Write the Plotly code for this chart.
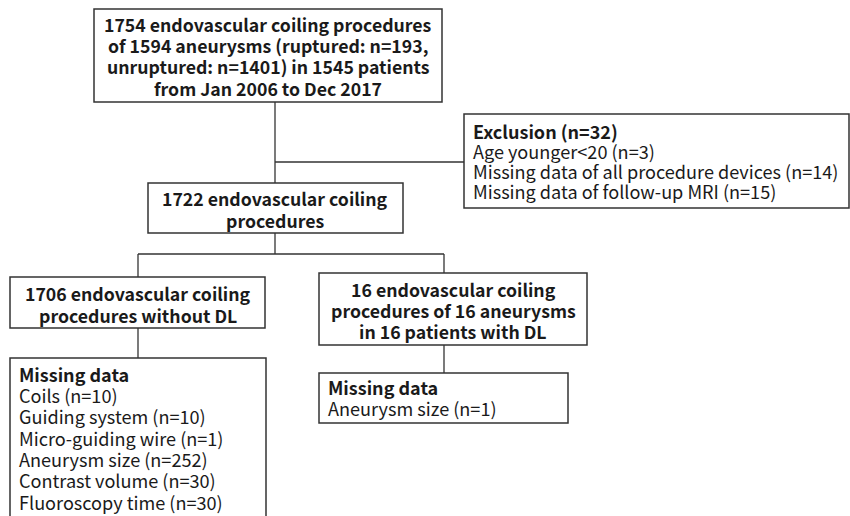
import plotly.graph_objects as go

# ---- text content ----
top_lines = ["1754 endovascular coiling procedures",
             "of 1594 aneurysms (ruptured: n=193,",
             "unruptured: n=1401) in 1545 patients",
             "from Jan 2006 to Dec 2017"]
excl_title = "Exclusion (n=32)"
excl_items = ["Age younger<20 (n=3)",
              "Missing data of all procedure devices (n=14)",
              "Missing data of follow-up MRI (n=15)"]
mid_lines = ["1722 endovascular coiling", "procedures"]
left_lines = ["1706 endovascular coiling", "procedures without DL"]
right_lines = ["16 endovascular coiling", "procedures of 16 aneurysms", "in 16 patients with DL"]
miss_title = "Missing data"
miss_left_items = ["Coils (n=10)", "Guiding system (n=10)", "Micro-guiding wire (n=1)",
                   "Aneurysm size (n=252)", "Contrast volume (n=30)", "Fluoroscopy time (n=30)"]
miss_right_items = ["Aneurysm size (n=1)"]

FONT = "Noto Sans CJK JP, Noto Sans, sans-serif"
TXT = "#1a1a1a"
LINE = "#333333"

fig = go.Figure()
fig.add_trace(go.Scatter(x=[0, 850], y=[0, 516], mode="markers",
                         marker=dict(opacity=0), hoverinfo="skip", showlegend=False))

shapes = []
def box(x0, y0, x1, y1):
    shapes.append(dict(type="rect", x0=x0, y0=y0, x1=x1, y1=y1,
                       line=dict(color=LINE, width=1.5), fillcolor="white", layer="below"))
def seg(x0, y0, x1, y1):
    shapes.append(dict(type="line", x0=x0, y0=y0, x1=x1, y1=y1,
                       line=dict(color=LINE, width=1.3), layer="below"))

# connectors
seg(275, 102, 275, 183)
seg(275, 162, 464, 162)
seg(275, 233, 275, 254)
seg(138, 254, 444, 254)
seg(138, 254, 138, 277)
seg(444, 254, 444, 273)
seg(138, 328, 138, 358)
seg(444, 345, 444, 373)

# boxes
box(94, 9, 442, 102)
box(464, 114, 849, 208)
box(148, 183, 403, 233)
box(10, 277, 265, 328)
box(319, 273, 587, 345)
box(10, 358, 266, 530)
box(319, 373, 568, 423)

ann = []
def line(text, x, y, bold=False, anchor="center", size=None):
    if size is None:
        size = 17.7 if bold else 18.1
    ann.append(dict(x=x, y=y, xref="x", yref="y", showarrow=False,
                    text=("<b>%s</b>" % text) if bold else text,
                    xanchor=anchor, yanchor="middle",
                    font=dict(family=FONT, size=size, color=TXT)))

def centered(lines, x, y0, step=21.2):
    for i, l in enumerate(lines):
        line(l, x, y0 + i * step, bold=True)

def listing(title, items, x, y_title, y_first, step):
    line(title, x, y_title, bold=True, anchor="left", size=18)
    for i, l in enumerate(items):
        line(l, x, y_first + i * step, anchor="left")

centered(top_lines, 268, 24)
centered(mid_lines, 275, 198, 21.5)
centered(left_lines, 138, 293, 21.5)
centered(right_lines, 453, 289, 21.0)
listing(excl_title, excl_items, 471, 131, 150.5, 20.4)
listing(miss_title, miss_left_items, 17, 374, 395, 21.3)
listing(miss_title, miss_right_items, 326, 387, 408, 21.3)

fig.update_layout(
    width=850, height=516,
    margin=dict(l=0, r=0, t=0, b=0),
    paper_bgcolor="white", plot_bgcolor="white",
    xaxis=dict(range=[0, 850], visible=False, fixedrange=True),
    yaxis=dict(range=[516, 0], visible=False, fixedrange=True),
    shapes=shapes, annotations=ann, showlegend=False,
)
fig.write_html("out.html", config={"displayModeBar": False},
               post_script="document.body.style.margin='0';document.body.style.overflow='hidden';")
